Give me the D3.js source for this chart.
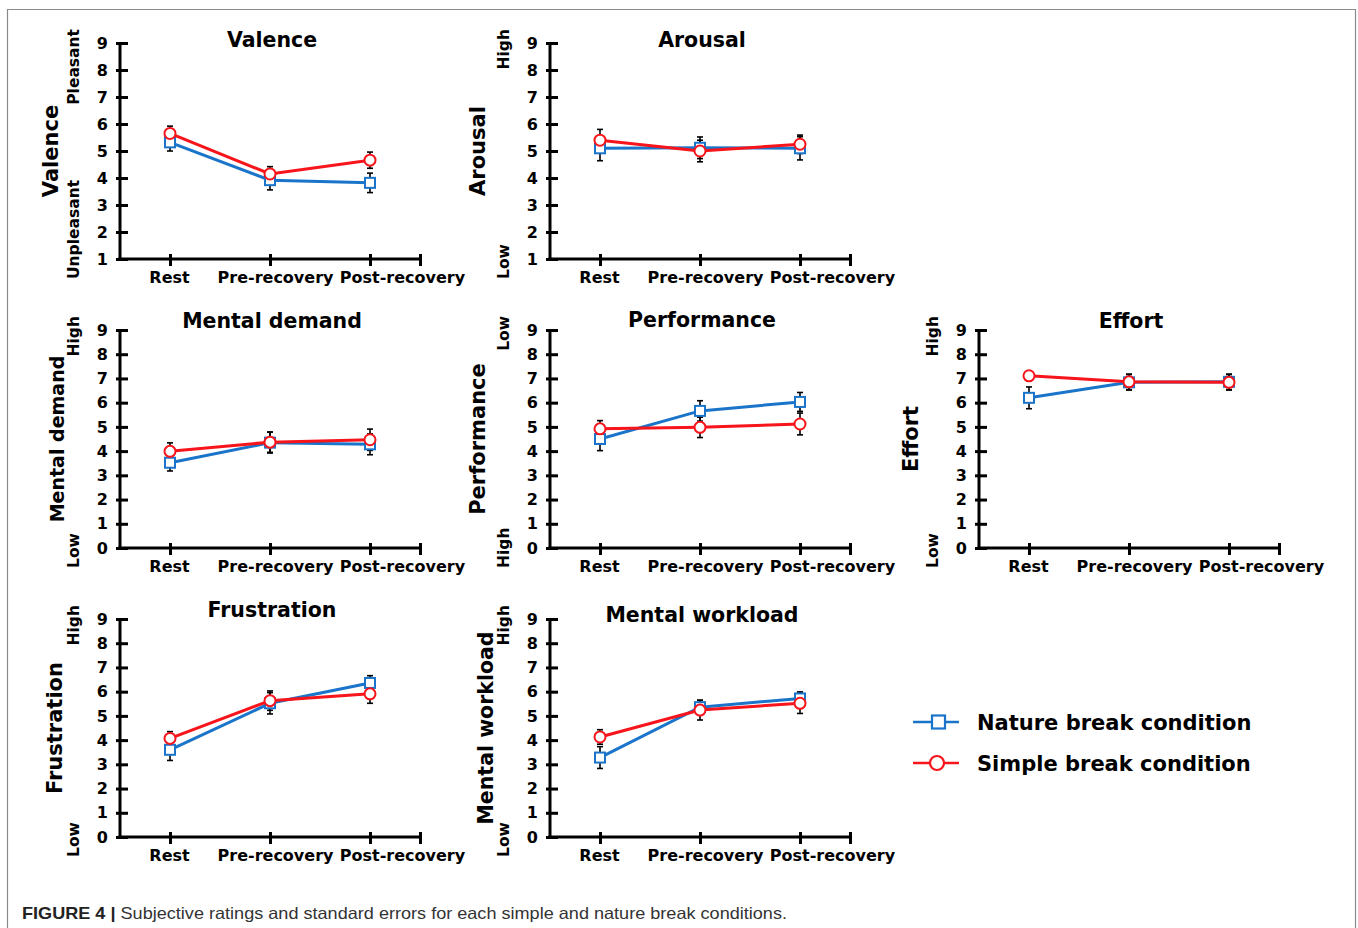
<!DOCTYPE html>
<html>
<head>
<meta charset="utf-8">
<script src="https://cdn.jsdelivr.net/npm/d3@7"></script>
<style>
  body { margin: 0; background: #fff; }
  text { font-family: "DejaVu Sans", sans-serif; font-weight: bold; fill: #000; }
</style>
</head>
<body>
<div id="chart"></div>
<script>
// data
var categories = ["Rest", "Pre-recovery", "Post-recovery"];
var panelNames = ["Valence", "Arousal", "Mental demand", "Performance", "Effort", "Frustration", "Mental workload"];
var highLabels = ["Pleasant", "High", "High", "Low", "High", "High", "High"];
var lowLabels = ["Unpleasant", "Low", "Low", "High", "Low", "Low", "Low"];
var yMins = [1, 1, 0, 0, 0, 0, 0];
var yTicks1 = [1, 2, 3, 4, 5, 6, 7, 8, 9];
var yTicks0 = [0, 1, 2, 3, 4, 5, 6, 7, 8, 9];

var natureMean = [
  [5.32, 3.92, 3.82],
  [5.10, 5.12, 5.10],
  [3.52, 4.35, 4.28],
  [4.50, 5.66, 6.03],
  [6.20, 6.84, 6.86],
  [3.60, 5.52, 6.36],
  [3.28, 5.36, 5.72]
];
var natureSE = [
  [0.32, 0.36, 0.36],
  [0.46, 0.40, 0.43],
  [0.34, 0.43, 0.43],
  [0.48, 0.42, 0.39],
  [0.45, 0.32, 0.32],
  [0.44, 0.44, 0.30],
  [0.45, 0.28, 0.27]
];
var simpleMean = [
  [5.65, 4.15, 4.66],
  [5.40, 5.00, 5.25],
  [3.99, 4.37, 4.47],
  [4.92, 4.98, 5.12],
  [7.11, 6.86, 6.84],
  [4.07, 5.63, 5.91],
  [4.13, 5.24, 5.52]
];
var simpleSE = [
  [0.27, 0.27, 0.30],
  [0.40, 0.40, 0.34],
  [0.35, 0.42, 0.44],
  [0.34, 0.42, 0.45],
  [0.20, 0.32, 0.32],
  [0.28, 0.40, 0.39],
  [0.30, 0.41, 0.42]
];
var seriesNames = ["Nature break condition", "Simple break condition"];
var caption = "Subjective ratings and standard errors for each simple and nature break conditions.";

// layout of each panel on the page
var panels = [
  {ax: 120, top: 43, bottom: 259, titleDy: 4, labelX: -62, labelSize: 21},
  {ax: 550, top: 43, bottom: 259, titleDy: 4, labelX: -65, labelSize: 21},
  {ax: 120, top: 330, bottom: 548, titleDy: -2, labelX: -56, labelSize: 19},
  {ax: 550, top: 330, bottom: 548, titleDy: -3, labelX: -65, labelSize: 21},
  {ax: 979, top: 330, bottom: 548, titleDy: -2, labelX: -61, labelSize: 21},
  {ax: 120, top: 619, bottom: 837, titleDy: -2, labelX: -58, labelSize: 21},
  {ax: 550, top: 619, bottom: 837, titleDy: 3, labelX: -57, labelSize: 20.5}
];
var labelShift = [-1, 5, 32];

var BLUE = "#1a74c9",
    RED = "#f7141a";

var width = 1358, height = 928;

var svg = d3.select("#chart").append("svg")
  .attr("width", width)
  .attr("height", height);

// frame round the figure
svg.append("path")
  .attr("d", "M7.5," + height + "V9.5H1355.5V" + height)
  .style("fill", "none")
  .style("stroke", "#8a8a8a")
  .style("stroke-width", 1.2);

function drawPanel(p, k) {
  var g = svg.append("g");

  var x = d3.scaleLinear()
    .domain([0.5, 3.5])
    .range([p.ax, p.ax + 300]);

  var y = d3.scaleLinear()
    .domain([yMins[k], 9])
    .range([p.bottom, p.top]);

  var ticks = yMins[k] === 1 ? yTicks1 : yTicks0;

  // y axis
  var yAxis = g.append("g")
    .attr("transform", "translate(" + p.ax + ",0)")
    .call(d3.axisLeft(y).tickValues(ticks).tickSize(4).tickPadding(8));
  yAxis.select(".domain").attr("d", "M0," + (p.bottom + 1.5) + "V" + p.top);
  yAxis.selectAll(".tick line").attr("x1", 8);

  // x axis
  var xAxis = g.append("g")
    .attr("transform", "translate(0," + p.bottom + ")")
    .call(d3.axisBottom(x).tickValues([1, 2, 3, 3.5]).tickSize(7).tickFormat(function(d) {
      return d === 3.5 ? "" : categories[d - 1];
    }));
  xAxis.select(".domain").attr("d", "M" + (p.ax - 1.5) + ",0H" + (p.ax + 300));
  xAxis.selectAll(".tick line").attr("y1", -5);
  xAxis.selectAll(".tick text")
    .attr("y", 0)
    .attr("dy", 24)
    .attr("dx", function(d) { return d === 3.5 ? 0 : labelShift[d - 1]; });

  g.selectAll(".domain, .tick line")
    .style("stroke", "#000")
    .style("stroke-width", 3);
  g.selectAll(".tick text")
    .style("font-family", "DejaVu Sans, sans-serif")
    .style("font-weight", "bold")
    .style("font-size", "16px")
    .style("fill", "#000");

  // title
  g.append("text")
    .attr("x", x(2) + 2)
    .attr("y", p.top + p.titleDy)
    .attr("text-anchor", "middle")
    .style("font-size", "20.5px")
    .text(panelNames[k]);

  // y axis title and the scale end labels
  g.append("text")
    .attr("transform", "translate(" + (p.ax + p.labelX) + "," + ((p.top + p.bottom) / 2) + ") rotate(-90)")
    .attr("text-anchor", "middle")
    .style("font-size", p.labelSize + "px")
    .text(panelNames[k]);

  g.append("text")
    .attr("transform", "translate(" + (p.ax - 41) + "," + (p.top - 14) + ") rotate(-90)")
    .attr("text-anchor", "end")
    .style("font-size", "15.5px")
    .text(highLabels[k]);

  g.append("text")
    .attr("transform", "translate(" + (p.ax - 41) + "," + (p.bottom + 20) + ") rotate(-90)")
    .attr("text-anchor", "start")
    .style("font-size", "15.5px")
    .text(lowLabels[k]);

  var series = [
    {mean: natureMean[k], se: natureSE[k], color: BLUE, shape: "square"},
    {mean: simpleMean[k], se: simpleSE[k], color: RED, shape: "circle"}
  ];

  // error bars under the lines
  series.forEach(function(s) {
    var bars = g.append("g").selectAll("g")
      .data(s.mean)
      .enter()
      .append("g");
    bars.append("line")
      .attr("x1", function(d, i) { return x(i + 1); })
      .attr("x2", function(d, i) { return x(i + 1); })
      .attr("y1", function(d, i) { return y(d - s.se[i]); })
      .attr("y2", function(d, i) { return y(d + s.se[i]); });
    bars.append("line")
      .attr("x1", function(d, i) { return x(i + 1) - 3; })
      .attr("x2", function(d, i) { return x(i + 1) + 3; })
      .attr("y1", function(d, i) { return y(d - s.se[i]); })
      .attr("y2", function(d, i) { return y(d - s.se[i]); });
    bars.append("line")
      .attr("x1", function(d, i) { return x(i + 1) - 3; })
      .attr("x2", function(d, i) { return x(i + 1) + 3; })
      .attr("y1", function(d, i) { return y(d + s.se[i]); })
      .attr("y2", function(d, i) { return y(d + s.se[i]); });
    bars.selectAll("line")
      .style("stroke", "#000")
      .style("stroke-width", 1.6);
  });

  var line = d3.line()
    .x(function(d, i) { return x(i + 1); })
    .y(function(d) { return y(d); });

  series.forEach(function(s) {
    g.append("path")
      .datum(s.mean)
      .attr("d", line)
      .style("fill", "none")
      .style("stroke", s.color)
      .style("stroke-width", 3);

    if (s.shape === "square") {
      g.append("g").selectAll("rect")
        .data(s.mean)
        .enter()
        .append("rect")
        .attr("x", function(d, i) { return x(i + 1) - 5; })
        .attr("y", function(d) { return y(d) - 5; })
        .attr("width", 10)
        .attr("height", 10)
        .style("fill", "#fff")
        .style("stroke", s.color)
        .style("stroke-width", 2);
    } else {
      g.append("g").selectAll("circle")
        .data(s.mean)
        .enter()
        .append("circle")
        .attr("cx", function(d, i) { return x(i + 1); })
        .attr("cy", function(d) { return y(d); })
        .attr("r", 5.5)
        .style("fill", "#fff")
        .style("stroke", s.color)
        .style("stroke-width", 2);
    }
  });
}

panels.forEach(drawPanel);

// legend
var legend = svg.append("g").attr("transform", "translate(913,722)");
seriesNames.forEach(function(name, i) {
  var row = legend.append("g").attr("transform", "translate(0," + (i * 41) + ")");
  var c = i === 0 ? BLUE : RED;
  row.append("line")
    .attr("x1", 0).attr("x2", 46)
    .style("stroke", c)
    .style("stroke-width", 2.5);
  if (i === 0) {
    row.append("rect")
      .attr("x", 19).attr("y", -6.5)
      .attr("width", 13).attr("height", 13)
      .style("fill", "#fff").style("stroke", c).style("stroke-width", 2.2);
  } else {
    row.append("circle")
      .attr("cx", 24).attr("r", 7)
      .style("fill", "#fff").style("stroke", c).style("stroke-width", 2.2);
  }
  row.append("text")
    .attr("x", 64)
    .attr("y", 8)
    .style("font-size", "21px")
    .text(name);
});

// caption
var cap = svg.append("text")
  .attr("x", 22)
  .attr("y", 919)
  .attr("textLength", 765)
  .attr("lengthAdjust", "spacingAndGlyphs")
  .style("font-family", "Liberation Sans, Arial, sans-serif")
  .style("font-weight", "normal")
  .style("font-size", "16.5px");
cap.append("tspan")
  .style("font-weight", "bold")
  .style("fill", "#222")
  .text("FIGURE 4 | ");
cap.append("tspan")
  .style("fill", "#333")
  .text(caption);
</script>
</body>
</html>
